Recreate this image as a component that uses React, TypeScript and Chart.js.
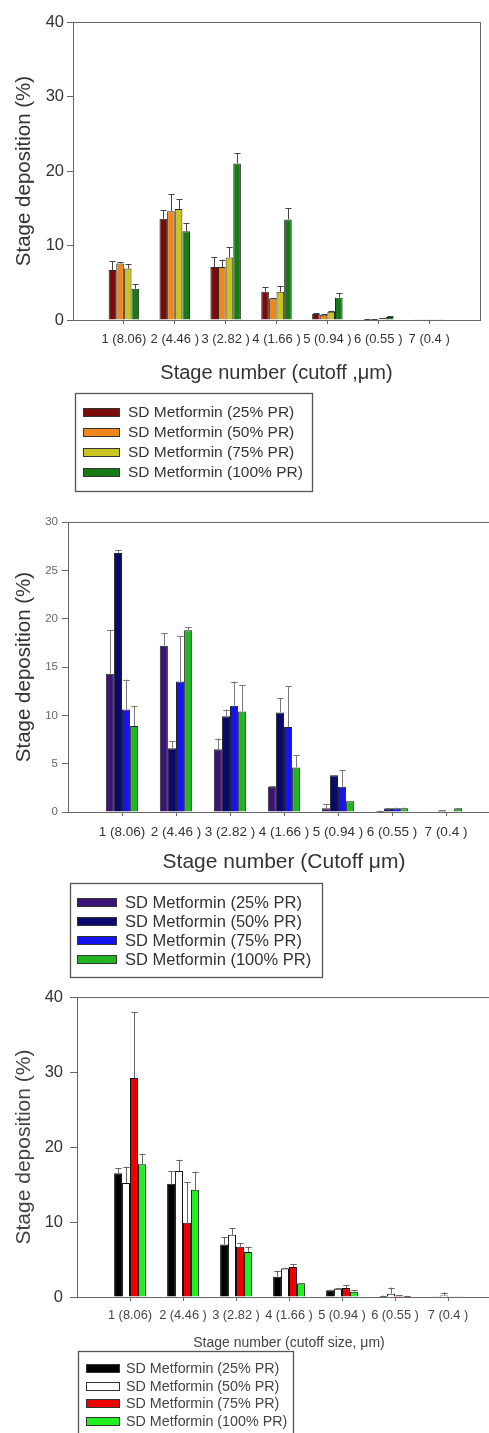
import React, { useEffect, useRef } from 'react';
import { Chart, registerables } from 'chart.js';

Chart.register(...registerables);

const FONT = 'Arial, "Liberation Sans", Helvetica, sans-serif';

// ---------------- shared data ----------------
const stageNumbers = [1, 2, 3, 4, 5, 6, 7];
const stageLabels = ['1 (8.06)', '2 (4.46 )', '3 (2.82 )', '4 (1.66 )', '5 (0.94 )', '6 (0.55 )', '7 (0.4 )'];
const seriesNames = ['SD Metformin (25% PR)', 'SD Metformin (50% PR)', 'SD Metformin (75% PR)', 'SD Metformin (100% PR)'];

// ---------------- panel A ----------------
const aTitleX = 'Stage number (cutoff ,μm)';
const aTitleY = 'Stage deposition (%)';
const aYTicks = [0, 10, 20, 30, 40];
const a25 = [6.7, 13.6, 7.1, 3.8, 0.8, 0.1, 0.05];
const a50 = [7.6, 14.6, 7.1, 2.9, 0.7, 0.1, 0.05];
const a75 = [6.9, 14.9, 8.4, 3.8, 1.1, 0.2, 0.05];
const a100 = [4.2, 11.9, 21.0, 13.5, 3.0, 0.4, 0.05];
const a25Err = [1.2, 1.1, 1.3, 0.6, 0.15, 0.05, 0];
const a50Err = [0.15, 2.3, 1.0, 0.1, 0.1, 0.05, 0];
const a75Err = [0.6, 1.3, 1.4, 0.7, 0.15, 0.05, 0];
const a100Err = [0.6, 1.1, 1.4, 1.5, 0.6, 0.1, 0];
const aColors = ['#7b0c0c', '#f0861e', '#c9c423', '#167a16'];

// ---------------- panel B ----------------
const bTitleX = 'Stage number (Cutoff μm)';
const bTitleY = 'Stage deposition (%)';
const bYTicks = [0, 5, 10, 15, 20, 25, 30];
const b25 = [14.3, 17.2, 6.5, 2.6, 0.4, 0.1, 0.05];
const b50 = [26.8, 6.6, 9.9, 10.3, 3.8, 0.35, 0.15];
const b75 = [10.6, 13.5, 11.0, 8.8, 2.6, 0.4, 0.0];
const b100 = [8.9, 18.8, 10.4, 4.6, 1.1, 0.4, 0.35];
const b25Err = [4.5, 1.3, 1.1, 0.05, 0.4, 0.05, 0];
const b50Err = [0.3, 0.7, 0.7, 1.5, 0.05, 0.05, 0.05];
const b75Err = [3.1, 4.7, 2.5, 4.2, 1.7, 0.05, 0];
const b100Err = [2.1, 0.3, 2.7, 1.3, 0.05, 0.05, 0.05];
const bColors = ['#3c1478', '#0a0a6e', '#1414f0', '#22b422'];

// ---------------- panel C ----------------
const cTitleX = 'Stage number (cutoff size, μm)';
const cTitleY = 'Stage deposition (%)';
const cYTicks = [0, 10, 20, 30, 40];
const c25 = [16.5, 15.1, 7.0, 2.7, 0.9, 0.15, 0.05];
const c50 = [15.2, 16.8, 8.3, 3.8, 1.1, 0.45, 0.2];
const c75 = [29.2, 9.9, 6.7, 4.0, 1.2, 0.2, 0.05];
const c100 = [17.7, 14.3, 6.0, 1.8, 0.7, 0.1, 0.05];
const c25Err = [0.7, 1.7, 1.0, 0.8, 0.1, 0.05, 0];
const c50Err = [2.2, 1.5, 0.9, 0.1, 0.1, 0.8, 0.4];
const c75Err = [8.8, 5.4, 0.5, 0.4, 0.4, 0.05, 0];
const c100Err = [1.4, 2.4, 0.7, 0.05, 0.2, 0.05, 0];
const cColors = ['#000000', '#ffffff', '#ee0000', '#22ee22'];

type PanelCfg = {
  top: number;
  width: number;
  height: number;
  series: number[][];
  errors: number[][];
  colors: string[];
  barBorder: string;
  errColor: string;
  yTicks: number[];
  xMax: number;
  titleX: string;
  titleY: string;
  pad: { left: number; right: number; top: number; bottom: number };
  yWidth: number;
  xHeight: number;
  yTickFont: number;
  yTickColor: string;
  yTickLen: number;
  yTickPad: number;
  xTickFont: number;
  xTickPad: number;
  xTitleFont: number;
  yTitleFont: number;
  textColor: string;
  legend: { x: number; y: number; w: number; h: number; row0: number; gap: number; swX: number; swW: number; swH: number; textX: number; font: number };
};

const panels: PanelCfg[] = [
  {
    top: 0, width: 489, height: 500,
    series: [a25, a50, a75, a100], errors: [a25Err, a50Err, a75Err, a100Err], colors: aColors,
    barBorder: '#2a2a2a', errColor: '#444', yTicks: aYTicks, xMax: 8,
    titleX: aTitleX, titleY: aTitleY,
    pad: { left: 0, right: 9, top: 22, bottom: 115 }, yWidth: 73, xHeight: 65,
    yTickFont: 16.5, yTickColor: '#333', yTickLen: 6, yTickPad: 3,
    xTickFont: 13, xTickPad: 8, xTitleFont: 20, yTitleFont: 20.5, textColor: '#333',
    legend: { x: 75, y: 393, w: 237, h: 98, row0: 412, gap: 20, swX: 83, swW: 36, swH: 8, textX: 128, font: 15.5 },
  },
  {
    top: 500, width: 510, height: 480,
    series: [b25, b50, b75, b100], errors: [b25Err, b50Err, b75Err, b100Err], colors: bColors,
    barBorder: '#222', errColor: '#777', yTicks: bYTicks, xMax: 8,
    titleX: bTitleX, titleY: bTitleY,
    pad: { left: 0, right: 10, top: 22, bottom: 105.4 }, yWidth: 68, xHeight: 62.6,
    yTickFont: 11.5, yTickColor: '#666', yTickLen: 6, yTickPad: 4,
    xTickFont: 13.5, xTickPad: 8, xTitleFont: 21, yTitleFont: 20.5, textColor: '#333',
    legend: { x: 70, y: 383, w: 252, h: 94, row0: 402, gap: 19, swX: 77, swW: 39, swH: 8, textX: 125, font: 16.5 },
  },
  {
    top: 980, width: 510, height: 453,
    series: [c25, c50, c75, c100], errors: [c25Err, c50Err, c75Err, c100Err], colors: cColors,
    barBorder: '#111', errColor: '#666', yTicks: cYTicks, xMax: 8,
    titleX: cTitleX, titleY: cTitleY,
    pad: { left: 0, right: 9, top: 17, bottom: 81.6 }, yWidth: 77, xHeight: 54.4,
    yTickFont: 16.5, yTickColor: '#333', yTickLen: 7, yTickPad: 7,
    xTickFont: 12.8, xTickPad: 7, xTitleFont: 14, yTitleFont: 21, textColor: '#444',
    legend: { x: 78, y: 371, w: 215, h: 95, row0: 388, gap: 17.7, swX: 86, swW: 33, swH: 8, textX: 126, font: 14.3 },
  },
];

const errorBarPlugin = {
  id: 'errorBars',
  afterDatasetsDraw(chart: any, _args: any, opts: any) {
    const { ctx } = chart;
    const yScale = chart.scales.y;
    ctx.save();
    ctx.strokeStyle = opts.color;
    ctx.lineWidth = 1;
    chart.data.datasets.forEach((ds: any, di: number) => {
      const meta = chart.getDatasetMeta(di);
      const errs: number[] = opts.errors[di];
      meta.data.forEach((el: any, i: number) => {
        const v = ds.data[i].y;
        const e = errs[i];
        if (!e) return;
        const yTop = yScale.getPixelForValue(v + e);
        const x = Math.round(el.x) + 0.5;
        const cap = Math.max(3, el.width * 0.4);
        ctx.beginPath();
        ctx.moveTo(x, el.y);
        ctx.lineTo(x, yTop);
        ctx.moveTo(x - cap, Math.round(yTop) + 0.5);
        ctx.lineTo(x + cap, Math.round(yTop) + 0.5);
        ctx.stroke();
      });
    });
    ctx.restore();
  },
};

const frameBoxPlugin = {
  id: 'frameBox',
  afterDraw(chart: any) {
    const { ctx, chartArea } = chart;
    ctx.save();
    ctx.strokeStyle = '#666';
    ctx.lineWidth = 1;
    ctx.strokeRect(Math.round(chartArea.left) + 0.5, Math.round(chartArea.top) + 0.5,
      Math.round(chartArea.right - chartArea.left), Math.round(chartArea.bottom - chartArea.top));
    ctx.restore();
  },
};

const boxLegendPlugin = {
  id: 'boxLegend',
  afterDraw(chart: any, _args: any, o: any) {
    const { ctx } = chart;
    ctx.save();
    ctx.strokeStyle = '#555';
    ctx.lineWidth = 1.3;
    ctx.strokeRect(o.x + 0.5, o.y + 0.5, o.w, o.h);
    ctx.font = `${o.font}px ${FONT}`;
    ctx.textBaseline = 'middle';
    chart.data.datasets.forEach((ds: any, i: number) => {
      const cy = o.row0 + i * o.gap;
      ctx.fillStyle = ds.backgroundColor;
      ctx.fillRect(o.swX, cy - o.swH / 2, o.swW, o.swH);
      ctx.lineWidth = 1;
      ctx.strokeStyle = '#333';
      ctx.strokeRect(o.swX + 0.5, Math.round(cy - o.swH / 2) + 0.5, o.swW, o.swH);
      ctx.fillStyle = o.color;
      ctx.fillText(ds.label, o.textX, cy + 1);
    });
    ctx.restore();
  },
};

function BarPanel({ cfg }: { cfg: PanelCfg }) {
  const ref = useRef<HTMLCanvasElement>(null);
  useEffect(() => {
    const datasets = cfg.series.map((vals, si) => ({
      label: seriesNames[si],
      data: stageNumbers.map((s, i) => ({ x: s, y: vals[i] })),
      backgroundColor: cfg.colors[si],
      borderColor: cfg.barBorder,
      borderWidth: 1,
      barPercentage: 1.0,
      categoryPercentage: 0.6,
    }));
    const chart = new Chart(ref.current as HTMLCanvasElement, {
      type: 'bar',
      data: { datasets },
      plugins: [errorBarPlugin, frameBoxPlugin, boxLegendPlugin],
      options: {
        responsive: false,
        animation: false,
        devicePixelRatio: 1,
        layout: { padding: cfg.pad },
        plugins: {
          legend: { display: false },
          tooltip: { enabled: false },
          errorBars: { errors: cfg.errors, color: cfg.errColor },
          boxLegend: { ...cfg.legend, color: cfg.textColor },
        } as any,
        scales: {
          x: {
            type: 'linear',
            min: 0,
            max: cfg.xMax,
            offset: false,
            afterBuildTicks: (scale: any) => {
              scale.ticks = stageNumbers.map((v) => ({ value: v }));
            },
            afterFit: (scale: any) => {
              scale.height = cfg.xHeight;
            },
            grid: { display: true, drawOnChartArea: false, offset: false, tickLength: 4, color: '#666' },
            border: { display: true, color: '#666' },
            ticks: {
              autoSkip: false,
              maxRotation: 0,
              minRotation: 0,
              padding: cfg.xTickPad,
              color: cfg.textColor,
              font: { family: FONT, size: cfg.xTickFont },
              callback: (v: any) => {
                const idx = stageNumbers.indexOf(Number(v));
                return idx >= 0 ? stageLabels[idx] : '';
              },
            },
            title: {
              display: true,
              text: cfg.titleX,
              color: cfg.textColor,
              font: { family: FONT, size: cfg.xTitleFont },
              padding: { top: 0, bottom: 0 },
            },
          },
          y: {
            type: 'linear',
            min: cfg.yTicks[0],
            max: cfg.yTicks[cfg.yTicks.length - 1],
            afterBuildTicks: (scale: any) => {
              scale.ticks = cfg.yTicks.map((v) => ({ value: v }));
            },
            afterFit: (scale: any) => {
              scale.width = cfg.yWidth;
            },
            grid: { display: true, drawOnChartArea: false, tickLength: cfg.yTickLen, color: '#666' },
            border: { display: true, color: '#666' },
            ticks: {
              padding: cfg.yTickPad,
              color: cfg.yTickColor,
              font: { family: FONT, size: cfg.yTickFont },
            },
            title: {
              display: true,
              text: cfg.titleY,
              color: cfg.textColor,
              font: { family: FONT, size: cfg.yTitleFont },
              padding: { top: 12, bottom: 0 },
            },
          },
        },
      } as any,
    });
    return () => chart.destroy();
  }, [cfg]);
  return (
    <canvas
      ref={ref}
      width={cfg.width}
      height={cfg.height}
      style={{ position: 'absolute', left: 0, top: cfg.top, width: cfg.width, height: cfg.height, display: 'block' }}
    />
  );
}

export default function App() {
  return (
    <div style={{ position: 'absolute', left: 0, top: 0, width: 489, height: 1433, overflow: 'hidden', background: '#fff' }}>
      {panels.map((p, i) => (
        <BarPanel key={i} cfg={p} />
      ))}
    </div>
  );
}
